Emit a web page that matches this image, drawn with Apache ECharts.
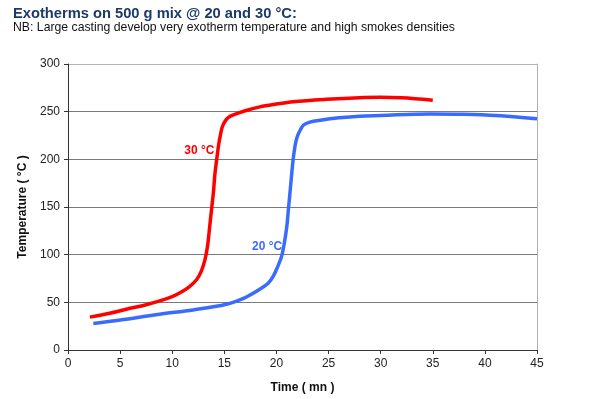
<!DOCTYPE html>
<html>
<head>
<meta charset="utf-8">
<script src="https://cdn.jsdelivr.net/npm/echarts@6/dist/echarts.min.js"></script>
<style>
html,body{margin:0;padding:0;background:#fff;}
#c{width:601px;height:399px;}
</style>
</head>
<body>
<div id="c"></div>
<script>
var titleText = 'Exotherms on 500 g mix @ 20 and 30 °C:';
var subText = 'NB: Large casting develop very exotherm temperature and high smokes densities';
var xName = 'Time ( mn )';
var yName = 'Temperature ( °C )';

var red30Time = [2.1,4,5.6,7.5,8.8,10,10.75,11.6,12.35,12.8,13.15,13.4,13.6,13.8,13.95,14.1,14.27,14.45,14.6,14.8,15.07,15.4,15.87,17,18.4,20,21.6,24.8,28,30,32,35];
var red30Temp = [34.5,38.5,42.8,47.5,51.5,56,60,66,74,83,95,110,130,150,165,185,200,215,224,234,240,244,246.6,251,255,258,260.5,263,264.7,265,264.5,262];

var blue20Time = [2.43,5,8.8,12,15.2,17,18.4,19.2,19.7,20.1,20.5,20.8,21.0,21.15,21.3,21.45,21.6,21.8,22.0,22.3,22.6,23.2,24.2,26,28,30,34.7,37.9,41.1,45];
var blue20Temp = [27.9,31.5,37.6,42,48,55,63.7,70,77.6,87,98.5,115,130,148,165,183,199.6,215,224,231,236,239,241,243.5,245.3,246,247.6,247.3,246,242.5];

var label30 = {text:'30 °C', x:12.6, y:209};
var label20 = {text:'20 °C', x:19.1, y:108};

function pairs(a,b){ return a.map(function(v,i){ return [v,b[i]]; }); }

var chart = echarts.init(document.getElementById('c'));
var font = '"Liberation Sans", Arial, sans-serif';
chart.setOption({
  animation:false,
  backgroundColor:'#fff',
  textStyle:{fontFamily:font},
  title:[
    {text:titleText, left:8, top:1, textStyle:{fontFamily:font, fontSize:14.7, fontWeight:'bold', color:'#1b3a68'}},
    {text:subText, left:8, top:17, textStyle:{fontFamily:font, fontSize:12.25, fontWeight:'normal', color:'#111'}}
  ],
  grid:{left:68, right:64, top:64, bottom:48},
  xAxis:{
    type:'value', min:0, max:45, interval:5,
    name:xName, nameLocation:'middle', nameGap:32,
    nameTextStyle:{fontFamily:font, fontSize:12, fontWeight:'bold', color:'#111'},
    axisLine:{show:true, lineStyle:{color:'#333', width:1}},
    axisTick:{show:true, length:4, lineStyle:{color:'#333'}},
    axisLabel:{fontFamily:font, fontSize:12, color:'#222', margin:8},
    splitLine:{show:false}
  },
  yAxis:[{
    type:'value', min:0, max:300, interval:50,
    name:yName, nameLocation:'middle', nameGap:38, nameRotate:90,
    nameTextStyle:{fontFamily:font, fontSize:12, fontWeight:'bold', color:'#111'},
    axisLine:{show:true, lineStyle:{color:'#333', width:1}},
    axisTick:{show:true, length:4, lineStyle:{color:'#333'}},
    axisLabel:{fontFamily:font, fontSize:12, color:'#222', margin:8},
    splitLine:{show:true, lineStyle:{color:['#7a7a7a','#7a7a7a','#7a7a7a','#7a7a7a','#7a7a7a','#7a7a7a','#b4b4b4'], width:1}}
  },{
    type:'value', min:0, max:300, interval:50, position:'right',
    axisLine:{show:true, lineStyle:{color:'#b0b0b0', width:1}},
    axisTick:{show:false}, axisLabel:{show:false}, splitLine:{show:false}
  }],
  series:[
    {
      type:'line', name:'30 °C', data:pairs(red30Time, red30Temp), smooth:0.35, symbol:'none',
      lineStyle:{color:'#ff0000', width:3.5}, itemStyle:{color:'#ff0000'},
      markPoint:{symbol:'circle', symbolSize:0, data:[{coord:[label30.x,label30.y], value:label30.text}],
        label:{show:true, formatter:label30.text, fontFamily:font, fontSize:12, fontWeight:'bold', color:'#ff0000'}}
    },
    {
      type:'line', name:'20 °C', data:pairs(blue20Time, blue20Temp), smooth:0.35, symbol:'none',
      lineStyle:{color:'#3a6bff', width:3.5}, itemStyle:{color:'#3a6bff'},
      markPoint:{symbol:'circle', symbolSize:0, data:[{coord:[label20.x,label20.y], value:label20.text}],
        label:{show:true, formatter:label20.text, fontFamily:font, fontSize:12, fontWeight:'bold', color:'#3a6bff'}}
    }
  ]
});
</script>
</body>
</html>
